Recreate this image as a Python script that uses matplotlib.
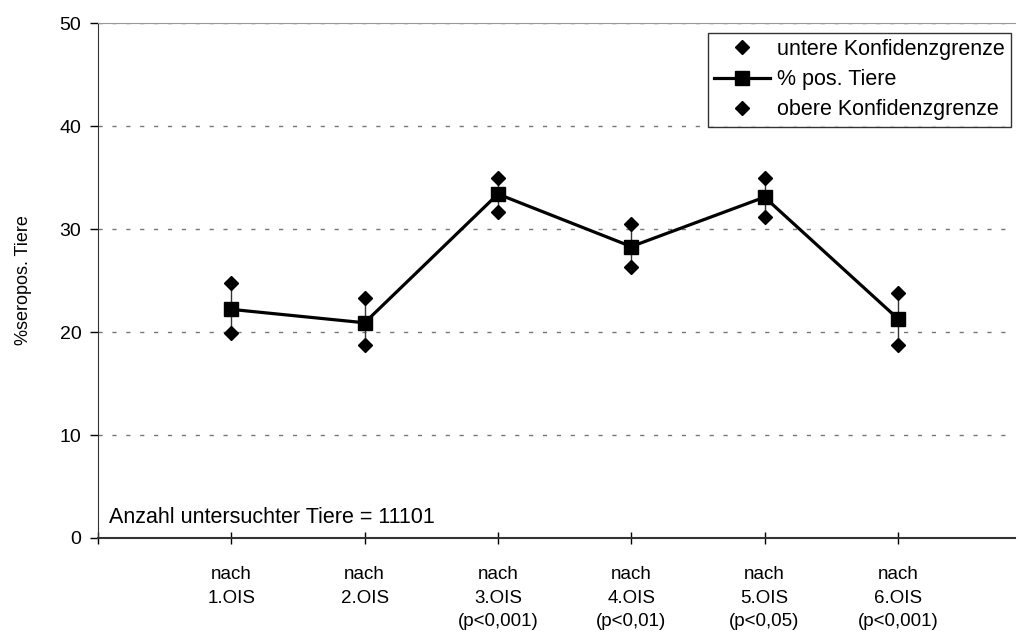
import numpy as np
import matplotlib.pyplot as plt

plt.rcParams["font.family"] = ["Liberation Sans", "DejaVu Sans"]

# Seropositive share after each OIS round, with confidence limits
rounds = ["nach\n1.OIS", "nach\n2.OIS", "nach\n3.OIS\n(p<0,001)",
          "nach\n4.OIS\n(p<0,01)", "nach\n5.OIS\n(p<0,05)", "nach\n6.OIS\n(p<0,001)"]
pct_pos = [22.2, 20.9, 33.4, 28.3, 33.1, 21.3]
lower_ci = [19.9, 18.7, 31.7, 26.3, 31.2, 18.7]
upper_ci = [24.8, 23.3, 35.0, 30.5, 35.0, 23.8]
n_animals = 11101

x = np.arange(1, len(rounds) + 1)

fig = plt.figure(figsize=(10.19, 6.42), dpi=100)
ax = fig.add_axes([0.0962, 0.162, 0.9, 0.802])

ax.vlines(x, lower_ci, upper_ci, color="#333333", lw=1, zorder=2)
ax.plot(x, lower_ci, "D", color="black", ms=7.5, ls="none", zorder=3,
        label="untere Konfidenzgrenze")
ax.plot(x, pct_pos, "-s", color="black", lw=2.3, ms=10, zorder=4,
        label="% pos. Tiere")
ax.plot(x, upper_ci, "D", color="black", ms=7.5, ls="none", zorder=3,
        label="obere Konfidenzgrenze")

ax.set_xlim(0, 6.88)
ax.set_ylim(0, 50)
ax.set_yticks(np.arange(0, 51, 10))
ax.yaxis.grid(True, color="#777777", ls=(0, (3, 7)), lw=1)
ax.set_axisbelow(True)

ax.set_xticks(np.arange(0, len(rounds) + 1))
ax.set_xticklabels([""] + rounds, fontsize=13.5, linespacing=1.5, va="top")
ax.tick_params(axis="x", direction="inout", length=9, width=1, pad=16)
ax.tick_params(axis="y", direction="out", length=6, width=1, labelsize=14, pad=6)

ax.spines["right"].set_visible(False)
ax.spines["top"].set_color("#999999")
ax.spines["left"].set_color("#333333")
ax.spines["bottom"].set_color("#333333")
ax.spines["bottom"].set_linewidth(1.5)

ax.set_ylabel("%seropos. Tiere", fontsize=13, labelpad=20)

ax.text(0.08, 1.0, f"Anzahl untersuchter Tiere = {n_animals}", fontsize=15.5,
        ha="left", va="bottom")

leg = ax.legend(loc="upper right", bbox_to_anchor=(1.0, 0.99), fontsize=15.5,
                frameon=True, fancybox=False, edgecolor="black",
                handlelength=2.6, handletextpad=0.3, borderpad=0.3,
                labelspacing=0.42, borderaxespad=0.2)
leg.get_frame().set_linewidth(1)

fig.savefig("out.png", dpi=100)
